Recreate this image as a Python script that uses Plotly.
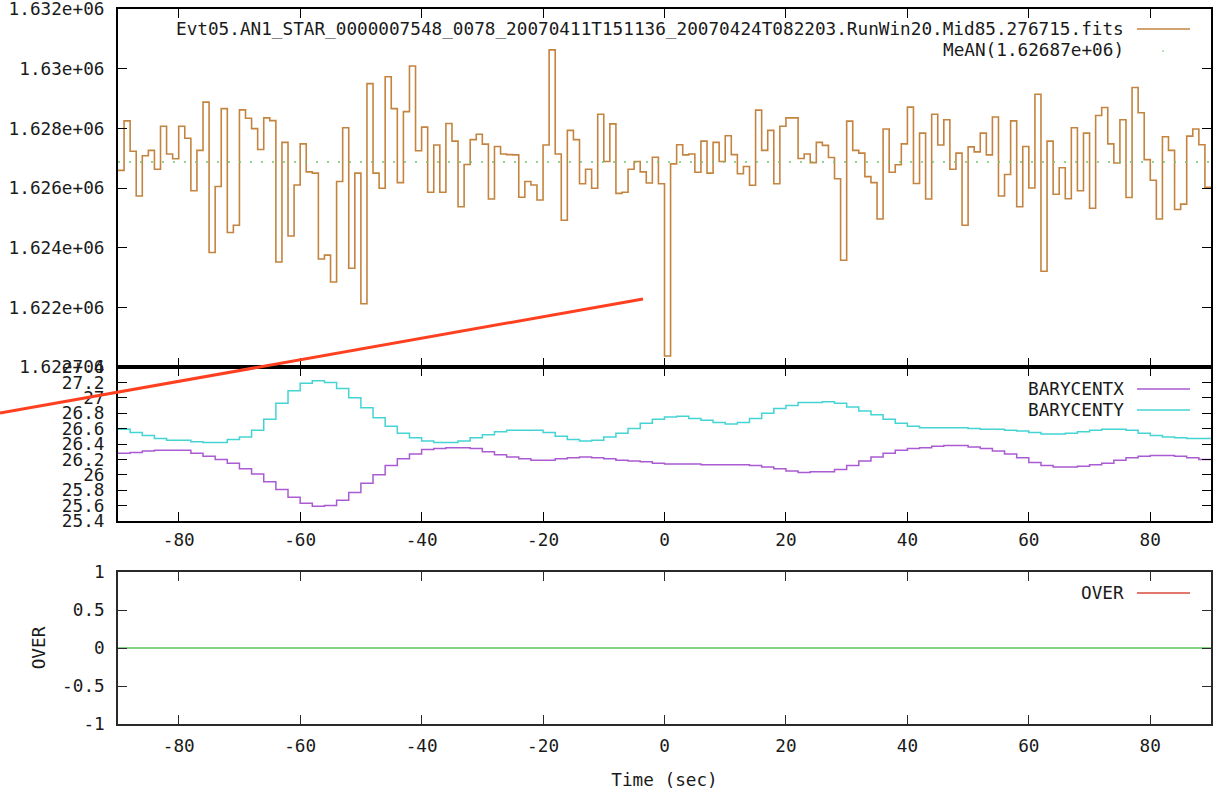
import numpy as np
import plotly.graph_objects as go

# ---------------- data ----------------
# top panel: 1-second bins from -90 s to 90 s (bin start times)
t_top = np.arange(-90, 90)
flux = [
    1626590, 1628250, 1627230, 1625730, 1627080, 1627260, 1626630, 1628070, 1627140, 1626980,
    1628070, 1627670, 1625910, 1627260, 1628880, 1623840, 1626050, 1628660, 1624510, 1624750,
    1628620, 1628340, 1627990, 1627290, 1628350, 1628260, 1623520, 1627530, 1624390, 1626100,
    1627480, 1626540, 1626500, 1623620, 1623750, 1622850, 1626220, 1628020, 1623310, 1626500,
    1622120, 1629500, 1626500, 1625990, 1629730, 1628660, 1626180, 1628560, 1630090, 1627250,
    1628040, 1625860, 1627440, 1625860, 1628160, 1627570, 1625370, 1626790, 1627620, 1627800,
    1627470, 1625630, 1627390, 1627140, 1627120, 1627110, 1625690, 1626220, 1626100, 1625600,
    1627440, 1630630, 1627140, 1624920, 1627930, 1627620, 1626140, 1626630, 1625990, 1628470,
    1626890, 1628150, 1625820, 1625860, 1626630, 1626890, 1626540, 1626170, 1627030, 1626140,
    1620370, 1626810, 1627450, 1627110, 1627140, 1626530, 1627570, 1626500, 1627530, 1626890,
    1627750, 1627120, 1626480, 1626720, 1626090, 1628610, 1627260, 1627930, 1626140, 1628070,
    1628350, 1628350, 1626990, 1627140, 1626850, 1627530, 1627430, 1627020, 1626310, 1623580,
    1628240, 1627260, 1627170, 1626380, 1626180, 1624960, 1627980, 1626530, 1626780, 1627480,
    1628710, 1626150, 1627840, 1625630, 1628470, 1627440, 1628290, 1626630, 1627170, 1624750,
    1627380, 1627210, 1627840, 1627110, 1628380, 1625730, 1626450, 1628250, 1625370, 1627390,
    1626000, 1629140, 1623210, 1627570, 1625790, 1626680, 1625640, 1628020, 1625910, 1627840,
    1625320, 1628430, 1628700, 1627480, 1626840, 1628290, 1625680, 1629370, 1628520, 1626950,
    1626260, 1624960, 1627720, 1627260, 1625280, 1625460, 1627740, 1627980, 1627450, 1626020,
]
mean_value = 1626870

# middle panel: barycentre samples every 2 s
t_bary = np.arange(-90, 90, 2)
barycent_x = [
    26.28, 26.29, 26.31, 26.32, 26.32, 26.32, 26.28, 26.24, 26.20, 26.15,
    26.08, 26.01, 25.91, 25.81, 25.71, 25.63, 25.59, 25.60, 25.67, 25.77,
    25.89, 26.00, 26.12, 26.21, 26.27, 26.33, 26.34, 26.35, 26.35, 26.34,
    26.30, 26.26, 26.23, 26.21, 26.19, 26.19, 26.21, 26.22, 26.23, 26.22,
    26.21, 26.19, 26.18, 26.17, 26.15, 26.14, 26.14, 26.14, 26.13, 26.13,
    26.13, 26.13, 26.12, 26.10, 26.08, 26.05, 26.03, 26.04, 26.04, 26.07,
    26.12, 26.18, 26.23, 26.28, 26.32, 26.34, 26.35, 26.37, 26.38, 26.38,
    26.36, 26.34, 26.31, 26.27, 26.22, 26.16, 26.12, 26.10, 26.10, 26.11,
    26.13, 26.15, 26.19, 26.22, 26.24, 26.25, 26.25, 26.24, 26.22, 26.20,
]
barycent_y = [
    26.59, 26.55, 26.51, 26.47, 26.45, 26.45, 26.43, 26.42, 26.42, 26.46,
    26.49, 26.58, 26.72, 26.93, 27.09, 27.19, 27.22, 27.20, 27.12, 27.00,
    26.87, 26.74, 26.63, 26.54, 26.48, 26.44, 26.42, 26.42, 26.44, 26.48,
    26.52, 26.56, 26.58, 26.58, 26.58, 26.55, 26.50, 26.46, 26.44, 26.45,
    26.49, 26.54, 26.60, 26.67, 26.72, 26.75, 26.76, 26.73, 26.71, 26.68,
    26.66, 26.68, 26.73, 26.80, 26.86, 26.90, 26.94, 26.94, 26.95, 26.93,
    26.88, 26.83, 26.78, 26.72, 26.67, 26.63, 26.61, 26.61, 26.61, 26.61,
    26.60, 26.59, 26.59, 26.58, 26.57, 26.55, 26.53, 26.53, 26.54, 26.56,
    26.58, 26.59, 26.59, 26.58, 26.54, 26.51, 26.49, 26.48, 26.47, 26.47,
]

# bottom panel: OVER flag (all zero)
over = [0] * len(t_bary)

# tick labels
x_ticks = [-80, -60, -40, -20, 0, 20, 40, 60, 80]
x_ticktext = ["-80", "-60", "-40", "-20", "0", "20", "40", "60", "80"]
y1_ticks = [1.620e6, 1.622e6, 1.624e6, 1.626e6, 1.628e6, 1.630e6, 1.632e6]
y1_ticktext = ["1.62e+06", "1.622e+06", "1.624e+06", "1.626e+06", "1.628e+06", "1.63e+06", "1.632e+06"]
y2_ticks = [25.4, 25.6, 25.8, 26.0, 26.2, 26.4, 26.6, 26.8, 27.0, 27.2, 27.4]
y2_ticktext = ["25.4", "25.6", "25.8", "26", "26.2", "26.4", "26.6", "26.8", "27", "27.2", "27.4"]
y3_ticks = [-1, -0.5, 0, 0.5, 1]
y3_ticktext = ["-1", "-0.5", "0", "0.5", "1"]

title_text = "Evt05.AN1_STAR_0000007548_0078_20070411T151136_20070424T082203.RunWin20.Mid85.276715.fits"
mean_label = "MeAN(1.62687e+06)"

# ---------------- styling ----------------
FONT = "DejaVu Sans Mono"
FS = 17.7
C_FLUX = "#c4843f"
C_MEAN = "#6cc86c"
C_BX = "#aa5ad2"
C_BY = "#44d4d4"
C_OVER = "#5cc45c"
C_OVER_KEY = "#d84a3a"

W, H = 1230, 799
ML, MR, MT, MB = 118, 19, 9, 75
PW = W - ML - MR
PH = H - MT - MB


def py(pix):
    return (H - MB - pix) / PH


def px(pix):
    return (pix - ML) / PW


def step_xy(t, v, width):
    x = np.append(np.asarray(t, float), float(t[-1]) + width)
    y = np.append(np.asarray(v, float), float(v[-1]))
    return x, y


fig = go.Figure()

xf, yf = step_xy(t_top, flux, 1)
fig.add_trace(go.Scatter(x=xf, y=yf, mode="lines", line=dict(color=C_FLUX, width=1.6, shape="hv"),
                         xaxis="x", yaxis="y", showlegend=False, hoverinfo="skip"))
fig.add_trace(go.Scatter(x=[-90, 90], y=[mean_value, mean_value], mode="lines",
                         line=dict(color=C_MEAN, width=1.5, dash="2px,9px"),
                         xaxis="x", yaxis="y", showlegend=False, hoverinfo="skip"))

xbx, ybx = step_xy(t_bary, barycent_x, 2)
xby, yby = step_xy(t_bary, barycent_y, 2)
fig.add_trace(go.Scatter(x=xbx, y=ybx, mode="lines", line=dict(color=C_BX, width=1.5, shape="hv"),
                         xaxis="x2", yaxis="y2", showlegend=False, hoverinfo="skip"))
fig.add_trace(go.Scatter(x=xby, y=yby, mode="lines", line=dict(color=C_BY, width=1.5, shape="hv"),
                         xaxis="x2", yaxis="y2", showlegend=False, hoverinfo="skip"))

xo, yo = step_xy(t_bary, over, 2)
fig.add_trace(go.Scatter(x=xo, y=yo, mode="lines", line=dict(color=C_OVER, width=1.6, shape="hv"),
                         xaxis="x3", yaxis="y3", showlegend=False, hoverinfo="skip"))

tickfont = dict(family=FONT, size=FS, color="#1a1a1a")


def xax(anchor, labels, lw=2, lc="black", title=None, standoff=4):
    d = dict(anchor=anchor, domain=[0, 1], range=[-90, 90], tickmode="array",
             tickvals=x_ticks, ticktext=x_ticktext, showticklabels=labels,
             ticks="inside", ticklen=9, tickwidth=1.3, tickcolor=lc,
             showline=True, linewidth=lw, linecolor=lc, mirror="ticks", automargin=False,
             ticklabeloverflow="allow",
             showgrid=False, zeroline=False, tickfont=tickfont, ticklabelstandoff=standoff)
    if title:
        d["title"] = dict(text=title, font=tickfont, standoff=19)
    return d


def yax(anchor, dom, rng, tv, tt, lw=2, lc="black", title=None):
    d = dict(anchor=anchor, domain=dom, range=rng, tickmode="array", tickvals=tv, ticktext=tt,
             ticks="inside", ticklen=9, tickwidth=1.3, tickcolor=lc,
             showline=True, linewidth=lw, linecolor=lc, mirror="ticks", automargin=False,
             ticklabeloverflow="allow",
             showgrid=False, zeroline=False, tickfont=tickfont, ticklabelstandoff=8)
    if title:
        d["title"] = dict(text=title, font=tickfont, standoff=12)
    return d


d_top = [py(367), 1]
d_mid = [py(521), py(367)]
d_bot = [0, py(572)]

shapes = [
    # legend key samples
    dict(type="line", xref="paper", yref="paper", x0=px(1137), x1=px(1190), y0=py(29), y1=py(29),
         line=dict(color=C_FLUX, width=1.6)),
    dict(type="line", xref="paper", yref="paper", x0=px(1162), x1=px(1164), y0=py(51), y1=py(51),
         line=dict(color=C_MEAN, width=1.2)),
    dict(type="line", xref="paper", yref="paper", x0=px(1137), x1=px(1190), y0=py(389), y1=py(389),
         line=dict(color=C_BX, width=1.5)),
    dict(type="line", xref="paper", yref="paper", x0=px(1137), x1=px(1190), y0=py(410), y1=py(410),
         line=dict(color=C_BY, width=1.5)),
    dict(type="line", xref="paper", yref="paper", x0=px(1137), x1=px(1190), y0=py(593), y1=py(593),
         line=dict(color=C_OVER_KEY, width=1.4)),
    # red stroke drawn over the figure
    dict(type="line", xref="paper", yref="paper", x0=px(0), x1=px(643), y0=py(413), y1=py(299),
         line=dict(color="#ff4020", width=3), layer="above"),
]

annotations = []
for txt, ypix in [(title_text, 29), (mean_label, 50), ("BARYCENTX", 389), ("BARYCENTY", 410), ("OVER", 593)]:
    annotations.append(dict(text=txt, xref="paper", yref="paper", x=px(1126), y=py(ypix),
                            xanchor="right", yanchor="middle", showarrow=False,
                            font=dict(family=FONT, size=FS, color="#1a1a1a")))

fig.update_layout(
    width=W, height=H, autosize=False,
    margin=dict(l=ML, r=MR, t=MT, b=MB, autoexpand=False),
    paper_bgcolor="white", plot_bgcolor="white",
    font=dict(family=FONT, size=FS, color="#1a1a1a"),
    showlegend=False,
    xaxis=xax("y", False),
    yaxis=yax("x", d_top, [1.620e6, 1.632e6], y1_ticks, y1_ticktext),
    xaxis2=xax("y2", True, standoff=2),
    yaxis2=yax("x2", d_mid, [25.4, 27.4], y2_ticks, y2_ticktext),
    xaxis3=xax("y3", True, lw=1.5, lc="#2a2a2a", title="Time (sec)", standoff=5),
    yaxis3=yax("x3", d_bot, [-1, 1], y3_ticks, y3_ticktext, lw=1.5, lc="#2a2a2a", title="OVER"),
    shapes=shapes,
    annotations=annotations,
)

fig.write_html("out.html")
